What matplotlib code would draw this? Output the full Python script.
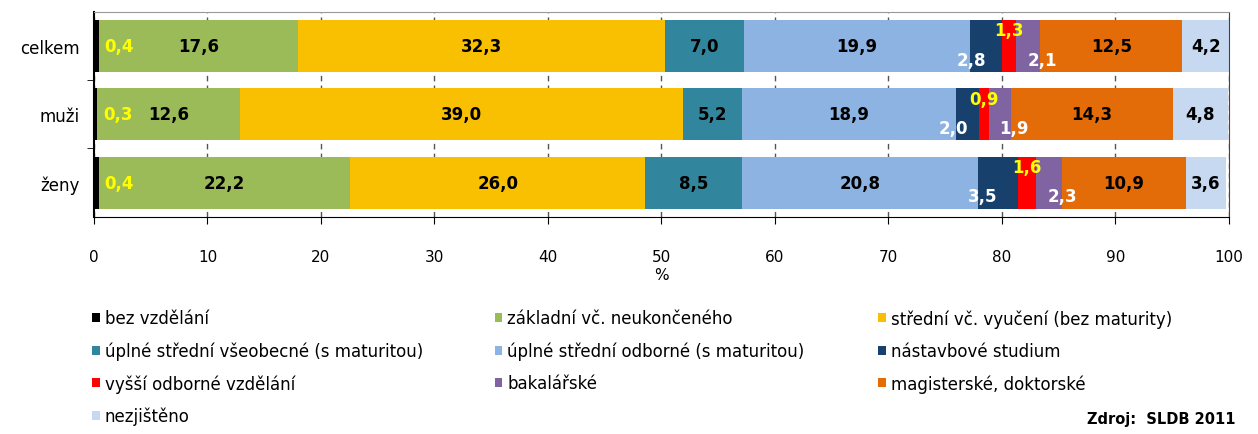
import matplotlib.pyplot as plt
from matplotlib.patches import Patch

groups = ['celkem', 'muži', 'ženy']
categories = [
    'bez vzdělání',
    'základní vč. neukončeného',
    'střední vč. vyučení (bez maturity)',
    'úplné střední všeobecné (s maturitou)',
    'úplné střední odborné (s maturitou)',
    'nástavbové studium',
    'vyšší odborné vzdělání',
    'bakalářské',
    'magisterské, doktorské',
    'nezjištěno',
]
celkem = [0.4, 17.6, 32.3, 7.0, 19.9, 2.8, 1.3, 2.1, 12.5, 4.2]
muzi = [0.3, 12.6, 39.0, 5.2, 18.9, 2.0, 0.9, 1.9, 14.3, 4.8]
zeny = [0.4, 22.2, 26.0, 8.5, 20.8, 3.5, 1.6, 2.3, 10.9, 3.6]
values = [celkem, muzi, zeny]

colors = ['#000000', '#9BBB59', '#F8C000', '#31859C', '#8DB3E2',
          '#17406D', '#FF0000', '#8064A2', '#E36C09', '#C6D9F1']
label_colors = ['#FFFF00', 'black', 'black', 'black', 'black',
                'white', '#FFFF00', 'white', 'black', 'black']
# label nudges (dx in %, dy in bar units) for the thin segments
nudge = {0: (2.0, 0.0), 5: (-1.3, 0.2), 6: (0.0, -0.23), 7: (1.2, 0.2)}

fig = plt.figure(figsize=(12.58, 4.35), dpi=100)
ax = fig.add_axes([0.0747, 0.499, 0.902, 0.472])

for i, row in enumerate(values):
    left = 0
    for j, v in enumerate(row):
        ax.barh(i, v, left=left, height=0.76, color=colors[j], edgecolor='none', zorder=2)
        dx, dy = nudge.get(j, (0, 0))
        ax.text(left + v / 2 + dx, i + dy, f'{v:.1f}'.replace('.', ','),
                ha='center', va='center', color=label_colors[j],
                fontsize=12, fontweight='bold', zorder=3)
        left += v

ax.set_xlim(0, 100)
ax.set_ylim(2.5, -0.5)
ax.set_xticks(range(0, 101, 10))
ax.tick_params(axis='x', length=5, pad=18, labelsize=11)
ax.set_yticks(range(3))
ax.set_yticklabels(groups, fontsize=12)
ax.set_yticks([0.5, 1.5], minor=True)
ax.tick_params(axis='y', which='major', length=0, pad=10)
ax.tick_params(axis='y', which='minor', length=5)
ax.set_xlabel('%', fontsize=11, labelpad=2)
ax.grid(axis='x', linestyle=(0, (4, 3)), color='#555555', linewidth=1, zorder=0)
ax.spines['top'].set_color('#999999')
ax.spines['right'].set_color('#444444')
ax.spines['left'].set_linewidth(1.5)

handles = [Patch(facecolor=c, edgecolor='none') for c in colors]
cols = [[0, 3, 6, 9], [1, 4, 7], [2, 5, 8]]
xs = [0.068, 0.388, 0.693]
for c, x in zip(cols, xs):
    fig.legend([handles[k] for k in c], [categories[k] for k in c],
               loc='upper left', bbox_to_anchor=(x, 0.302), frameon=False,
               fontsize=12, handlelength=0.45, handleheight=0.45,
               handletextpad=0.3, labelspacing=0.85, borderaxespad=0)

fig.text(0.982, 0.018, 'Zdroj:  SLDB 2011', ha='right', va='bottom',
         fontsize=10.5, fontweight='bold')

fig.savefig('out.png', dpi=100)
